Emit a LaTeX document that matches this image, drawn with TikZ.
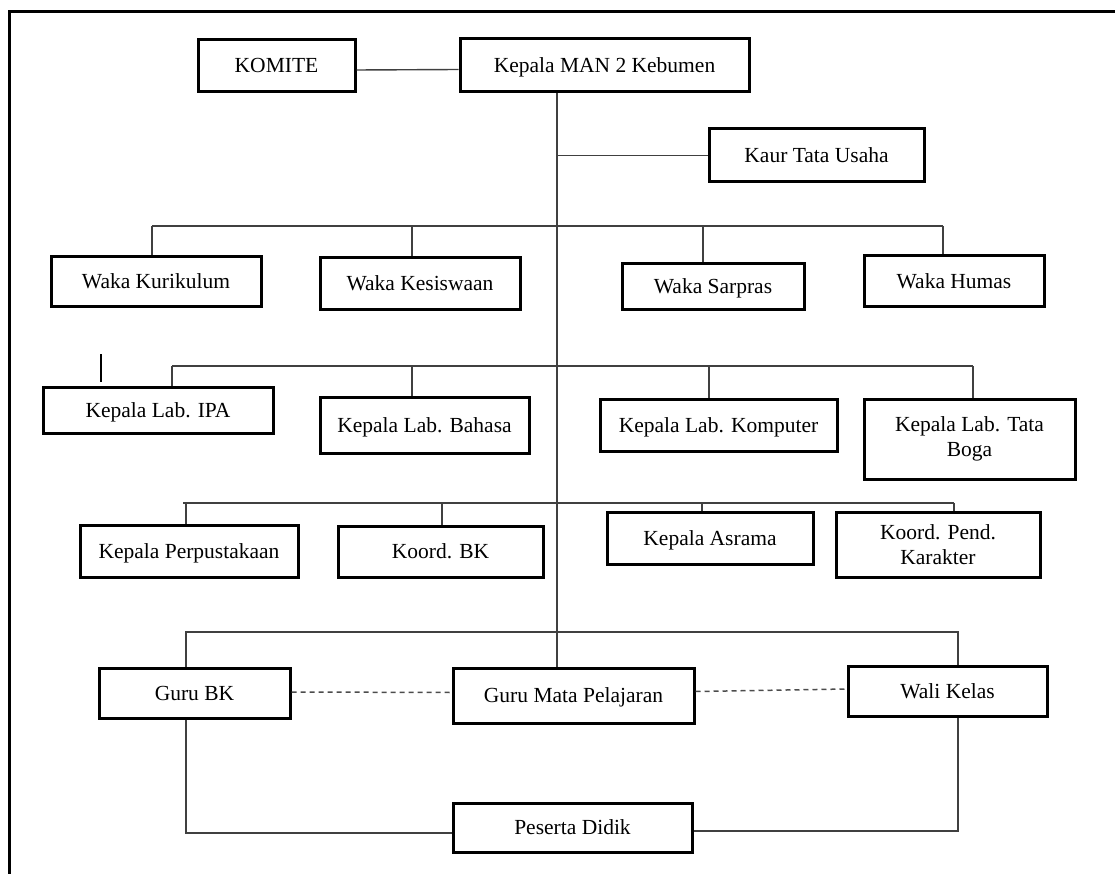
\documentclass[tikz,border=0pt]{standalone}
\usepackage{fontspec}
\setmainfont{Liberation Serif}
\tikzset{
  box/.style={draw, line width=3pt, inner sep=0pt, align=center,
    font=\fontsize{21.5}{24.6}\selectfont},
  oneline/.style={text height=17pt, text depth=3pt},
  conn/.style={draw=black!75, line width=1.4pt},
  dashline/.style={draw=black!70, line width=1.5pt, dash pattern=on 5pt off 4pt},
  frame/.style={line width=3pt}
}
\newcommand{\orgbox}[7][oneline]{\node[box, #1, minimum width={#5-#3}, minimum height={#6-#4}] (#2) at ({(#3+#5)/2},{(#4+#6)/2}) {#7};}
\begin{document}
\begin{tikzpicture}[x=1pt,y=-1pt]
\useasboundingbox (0,0) rectangle (1115,874);
% outer frame
\coordinate (fa) at (9,890);
\coordinate (fb) at (9,12);
\coordinate (fc) at (1130,12);
\draw[frame] (fa) -- (fb) -- (fc);

% boxes
\orgbox{komite}{198}{40}{355}{92}{KOMITE}
\orgbox{kepala}{460}{39}{749}{92}{Kepala MAN 2 Kebumen}
\orgbox{kaur}{709}{129}{924}{182}{Kaur Tata Usaha}

\orgbox{wkur}{51}{257}{261}{306}{Waka Kurikulum}
\orgbox{wkes}{320}{258}{520}{309}{Waka Kesiswaan}
\orgbox{wsar}{622}{264}{804}{309}{Waka Sarpras}
\orgbox{whum}{864}{256}{1044}{306}{Waka Humas}

\orgbox{lipa}{43}{387}{273}{433}{Kepala Lab. IPA}
\orgbox{lbah}{320}{397}{529}{453}{Kepala Lab. Bahasa}
\orgbox{lkom}{600}{399}{837}{451}{Kepala Lab. Komputer}
\orgbox[]{lboga}{864}{399}{1075}{479}{Kepala Lab. Tata\\Boga}

\orgbox{perp}{80}{525}{298}{577}{Kepala Perpustakaan}
\orgbox{kbk}{338}{526}{543}{577}{Koord. BK}
\orgbox{asr}{607}{512}{813}{564}{Kepala Asrama}
\orgbox[]{kar}{836}{512}{1040}{577}{Koord. Pend.\\Karakter}

\orgbox{gbk}{99}{668}{290}{718}{Guru BK}
\orgbox{gmp}{453}{668}{694}{723}{Guru Mata Pelajaran}
\orgbox{wali}{848}{666}{1047}{716}{Wali Kelas}
\orgbox{pd}{453}{803}{692}{852}{Peserta Didik}

% trunk
\coordinate (tk) at (557,92);
\draw[conn] (kepala.south -| tk) -- (gmp.north -| tk);
% komite link
\draw[conn] ([yshift=-4pt]komite.east) -- ([yshift=-4pt]kepala.west);
% kaur
\draw[conn] (tk |- kaur.west) -- (kaur.west);

% waka bus
\coordinate (w1) at (152,226);
\coordinate (w2) at (412,226);
\coordinate (w3) at (703,226);
\coordinate (w4) at (943,226);
\draw[conn] (w1) -- (w4);
\draw[conn] (w1) -- (w1 |- wkur.north);
\draw[conn] (w2) -- (w2 |- wkes.north);
\draw[conn] (w3) -- (w3 |- wsar.north);
\draw[conn] (w4) -- (w4 |- whum.north);

% stray mark
\coordinate (sm1) at (101,354);
\coordinate (sm2) at (101,382);
\draw[line width=2.2pt] (sm1) -- (sm2);

% lab bus
\coordinate (l1) at (172,366);
\coordinate (l2) at (412,366);
\coordinate (l3) at (709,366);
\coordinate (l4) at (973,366);
\draw[conn] (l1) -- (l4);
\draw[conn] (l1) -- (l1 |- lipa.north);
\draw[conn] (l2) -- (l2 |- lbah.north);
\draw[conn] (l3) -- (l3 |- lkom.north);
\draw[conn] (l4) -- (l4 |- lboga.north);

% perpustakaan bus
\coordinate (p0) at (183,503);
\coordinate (p1) at (186,503);
\coordinate (p2) at (442,503);
\coordinate (p3) at (702,503);
\coordinate (p4) at (954,503);
\draw[conn] (p0) -- (p4);
\draw[conn] (p1) -- (p1 |- perp.north);
\draw[conn] (p2) -- (p2 |- kbk.north);
\draw[conn] (p3) -- (p3 |- asr.north);
\draw[conn] (p4) -- (p4 |- kar.north);

% guru loop
\coordinate (gl) at (186,632);
\coordinate (gr) at (958,632);
\coordinate (bl) at (186,833);
\coordinate (br) at (958,831);
\draw[conn] (gbk.north -| gl) -- (gl) -- (gr) -- (wali.north -| gr);
\draw[conn] (gbk.south -| bl) -- (bl) -- (bl -| pd.west);
\draw[conn] (wali.south -| br) -- (br) -- (br -| pd.east);

% dashed
\draw[dashline] ([yshift=1pt]gbk.east) -- ([yshift=3pt]gmp.west);
\draw[dashline] ([yshift=4pt]gmp.east) -- ([yshift=2pt]wali.west);
\end{tikzpicture}
\end{document}
